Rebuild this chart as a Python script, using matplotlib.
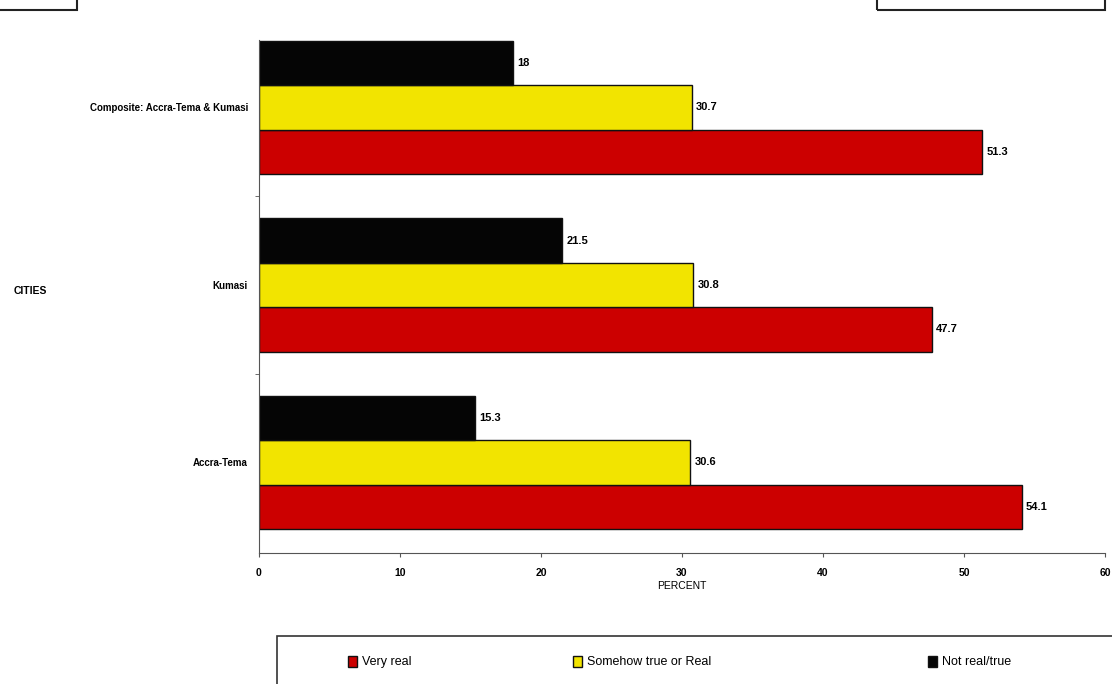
import numpy as np
import matplotlib.pyplot as plt
from matplotlib.patches import Rectangle

plt.rcParams['font.family'] = ['Liberation Sans', 'DejaVu Sans']

cities = ['Accra-Tema', 'Kumasi', 'Composite: Accra-Tema & Kumasi']
very_real = [54.1, 47.7, 51.3]
somehow_true = [30.6, 30.8, 30.7]
not_real = [15.3, 21.5, 18]
series_names = ['Very real', 'Somehow true or Real', 'Not real/true']

fig = plt.figure(figsize=(11.12, 6.84), dpi=100)
ax = fig.add_axes([259 / 1112, 131 / 684, 846 / 1112, 513 / 684])

y = np.arange(len(cities))
h = 0.25
colors = ['#cc0000', '#f2e400', '#050505']
series = [very_real, somehow_true, not_real]
offsets = [-h, 0, h]

for vals, col, off, name in zip(series, colors, offsets, series_names):
    bars = ax.barh(y + off, vals, height=h, color=col, edgecolor='#111111',
                   linewidth=1.0, label=name)
    for b, v in zip(bars, vals):
        ax.text(b.get_width() + 0.3, b.get_y() + b.get_height() / 2, f'{v:g}',
                va='center', ha='left', fontsize=8, fontweight='bold')

ax.set_xlim(0, 60)
ax.set_ylim(-0.51, 2.38)
ax.set_xticks(range(0, 61, 10))
ax.set_xticklabels([str(t) for t in range(0, 61, 10)], fontsize=7.5, fontweight='bold')
ax.set_yticks(y)
ax.set_yticklabels(cities, fontsize=7, fontweight='bold')
ax.tick_params(axis='y', length=0, pad=8)
ax.set_yticks([0.5, 1.5], minor=True)
ax.tick_params(axis='y', which='minor', length=3, direction='out', color='#555555')
ax.tick_params(axis='x', length=3, color='#555555', pad=8)
ax.set_xlabel('PERCENT', fontsize=7.5, labelpad=2)
ax.set_ylabel('CITIES', fontsize=7.5, rotation=0, labelpad=0, fontweight='bold')
ax.yaxis.set_label_coords(-0.27, 0.5)

for s in ['top', 'right']:
    ax.spines[s].set_visible(False)
for s in ['left', 'bottom']:
    ax.spines[s].set_color('#555555')

# legend frame at the bottom, one entry placed per column
fig.add_artist(Rectangle((277 / 1112, -0.02), 0.8, 48 / 684 + 0.02,
                         transform=fig.transFigure, fill=False,
                         edgecolor='#333333', linewidth=1.2))
handles, labels = ax.get_legend_handles_labels()
entry_x = [348 / 1112, 573 / 1112, 928 / 1112]
for hd, lb, ex in zip(handles, labels, entry_x):
    fig.legend([hd], [lb], loc='center left', bbox_to_anchor=(ex, 22 / 684),
               frameon=False, fontsize=9, handlelength=0.7, handleheight=1.0,
               handletextpad=0.4, borderpad=0, borderaxespad=0)

# scanned page boxes at the top edge
fig.add_artist(Rectangle((-0.01, 0.985), 88 / 1112, 0.03, transform=fig.transFigure,
                         fill=False, edgecolor='#222222', linewidth=1.5))
fig.add_artist(Rectangle((877 / 1112, 0.985), 228 / 1112, 0.03, transform=fig.transFigure,
                         fill=False, edgecolor='#222222', linewidth=1.5))

fig.savefig('out.png', dpi=100)
